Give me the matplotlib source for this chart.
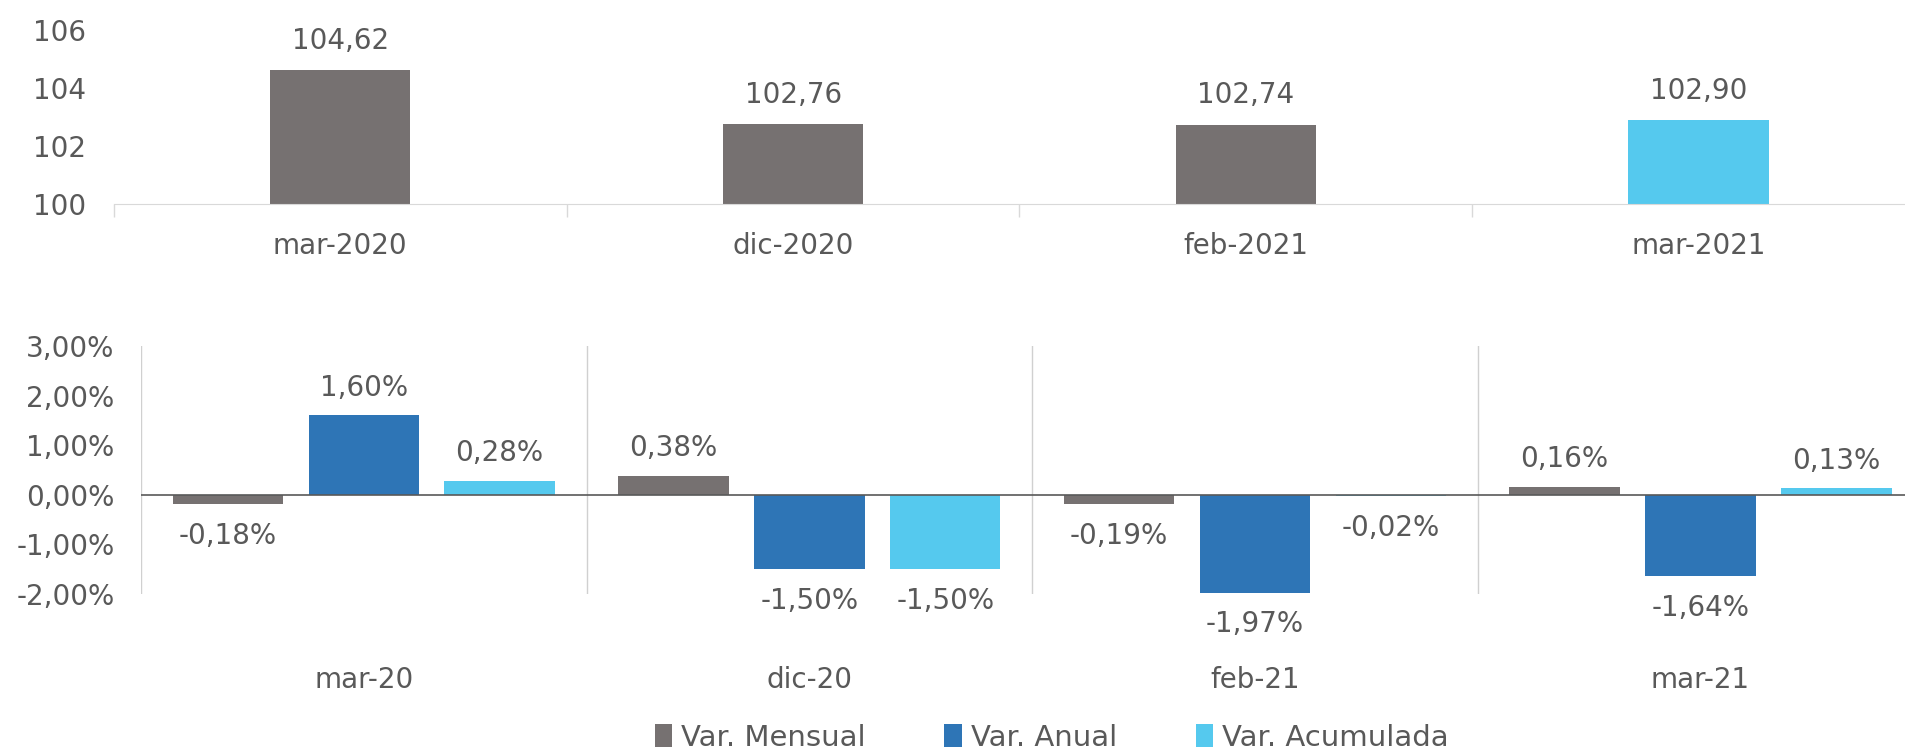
import numpy as np
import matplotlib.pyplot as plt
from matplotlib.patches import Patch

# === Data ===
idx_labels = ["mar-2020", "dic-2020", "feb-2021", "mar-2021"]
idx_values = [104.62, 102.76, 102.74, 102.90]

var_labels = ["mar-20", "dic-20", "feb-21", "mar-21"]
var_mensual = [-0.18, 0.38, -0.19, 0.16]
var_anual = [1.60, -1.50, -1.97, -1.64]
var_acumulada = [0.28, -1.50, -0.02, 0.13]
series_names = ["Var. Mensual", "Var. Anual", "Var. Acumulada"]

# === Style ===
GRAY = "#767171"
BLUE = "#2E75B6"
LIGHT = "#55C9EE"
TXT = "#595959"
plt.rcParams['font.family'] = ['DejaVu Sans']
FS = 20

def fmt(v, pct=False):
    s = f"{v:.2f}".replace(".", ",")
    return s + "%" if pct else s

fig = plt.figure(figsize=(19.05, 7.55), dpi=100)

# === Top chart: index values ===
ax1 = fig.add_axes([0.0598, 0.730, 0.9507, 0.230])
x1 = np.arange(len(idx_labels))
colors_top = [GRAY, GRAY, GRAY, LIGHT]
ax1.bar(x1, [v - 100 for v in idx_values], bottom=100, width=0.31, color=colors_top)
for xi, v in zip(x1, idx_values):
    ax1.annotate(fmt(v), (xi, v), xytext=(0, 21), textcoords="offset points",
                 ha="center", va="center", fontsize=FS, color=TXT)
ax1.set_xlim(-0.5, len(idx_labels) - 0.5)
ax1.set_ylim(100, 106)
ax1.set_yticks([100, 102, 104, 106])
ax1.set_xticks(x1)
ax1.set_xticklabels(idx_labels)
ax1.set_xticks(np.arange(len(idx_labels) + 1) - 0.5, minor=True)
ax1.tick_params(axis="x", which="major", length=0, pad=20, labelsize=FS, labelcolor=TXT)
ax1.tick_params(axis="x", which="minor", length=9, color="#D9D9D9", width=1)
ax1.tick_params(axis="y", length=0, pad=20, labelsize=FS, labelcolor=TXT)
for s in ["top", "right", "left"]:
    ax1.spines[s].set_visible(False)
ax1.spines["bottom"].set_color("#D9D9D9")

# === Bottom chart: variations ===
ax2 = fig.add_axes([0.074, 0.2132, 0.9356, 0.3285])
x2 = np.arange(len(var_labels))
w = 0.248
step = 0.305
series = [var_mensual, var_anual, var_acumulada]
cols = [GRAY, BLUE, LIGHT]
for k, (vals, c) in enumerate(zip(series, cols)):
    xs = x2 + (k - 1) * step
    ax2.bar(xs, vals, width=w, color=c)
    for xi, v in zip(xs, vals):
        off = 20 if v >= 0 else -23
        ax2.annotate(fmt(v, True), (xi, v), xytext=(0, off), textcoords="offset points",
                     ha="center", va="center", fontsize=FS, color=TXT)
ax2.axhline(0, color="#595959", lw=1.2, zorder=3)
for b in np.arange(len(var_labels)) - 0.5:
    ax2.axvline(b, color="#D0D0D0", lw=1)
ax2.set_xlim(-0.5, len(var_labels) - 0.5)
ax2.set_ylim(-2, 3)
ax2.set_yticks([-2, -1, 0, 1, 2, 3])
ax2.set_yticklabels([fmt(t, True) for t in [-2, -1, 0, 1, 2, 3]])
ax2.set_xticks(x2)
ax2.set_xticklabels(var_labels)
ax2.tick_params(axis="x", length=0, pad=52, labelsize=FS, labelcolor=TXT)
ax2.tick_params(axis="y", length=0, pad=19, labelsize=FS, labelcolor=TXT)
for s in ax2.spines.values():
    s.set_visible(False)

legend_elements = [Patch(facecolor=c, label=n) for c, n in zip(cols, series_names)]
fig.legend(handles=legend_elements, loc="center", bbox_to_anchor=(0.552, 0.023), ncol=3,
           frameon=False, fontsize=21, labelcolor=TXT, handlelength=0.6, handleheight=0.8,
           handletextpad=0.3, columnspacing=2.7)

plt.savefig("out.png", dpi=100, facecolor="white")
